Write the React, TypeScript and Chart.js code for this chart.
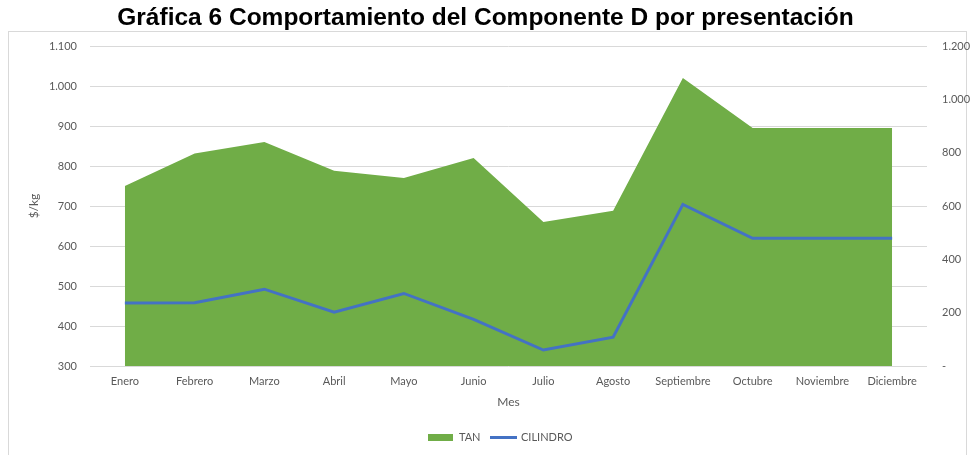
import React, { useEffect, useRef } from "react";
import { Chart, registerables } from "chart.js";

Chart.register(...registerables);

const months = [
  "Enero", "Febrero", "Marzo", "Abril", "Mayo", "Junio",
  "Julio", "Agosto", "Septiembre", "Octubre", "Noviembre", "Diciembre",
];
const tanValues = [750, 831, 860, 788, 770, 820, 660, 688, 1020, 895, 895, 895];
const cilindroValues = [236, 237, 288, 202, 272, 175, 60, 108, 606, 479, 479, 479];

const leftMin = 300;
const leftMax = 1100;
const leftStep = 100;
const rightMin = 0;
const rightMax = 1200;
const rightStep = 200;

const titleText = "Gráfica 6 Comportamiento del Componente D por presentación";
const leftAxisTitle = "$/kg";
const xAxisTitle = "Mes";
const tanLabel = "TAN";
const cilindroLabel = "CILINDRO";

const GREEN = "#70AD47";
const BLUE = "#4472C4";
const TEXT = "#595959";
const GRID = "#D9D9D9";
const FONT = "Lato, 'Open Sans', sans-serif";

function fmt(v: number): string {
  if (v === 0) return "-";
  return String(v).replace(/\B(?=(\d{3})+(?!\d))/g, ".");
}

function makeSwatch(w: number, h: number, color: string): HTMLCanvasElement {
  const c = document.createElement("canvas");
  c.width = w;
  c.height = h;
  const ctx = c.getContext("2d")!;
  ctx.fillStyle = color;
  ctx.fillRect(0, 0, w, h);
  return c;
}

const borderPlugin = {
  id: "outerBorder",
  beforeDraw(chart: any) {
    const ctx = chart.ctx;
    ctx.save();
    ctx.strokeStyle = GRID;
    ctx.lineWidth = 1;
    ctx.strokeRect(8.5, 31.5, 958, 440);
    ctx.restore();
  },
};

const legendShiftPlugin = {
  id: "legendShift",
  afterLayout(chart: any) {
    const lg = chart.legend;
    if (lg) {
      lg.left += 15;
      lg.right += 15;
    }
  },
};

export default function App() {
  const ref = useRef<HTMLCanvasElement | null>(null);

  useEffect(() => {
    if (!ref.current) return;
    const greenSwatch = makeSwatch(25, 7, GREEN);
    const blueSwatch = makeSwatch(27, 3, BLUE);

    const chart = new Chart(ref.current, {
      type: "line",
      data: {
        labels: months,
        datasets: [
          {
            label: tanLabel,
            data: tanValues,
            yAxisID: "y",
            fill: "start",
            backgroundColor: GREEN,
            borderColor: GREEN,
            borderWidth: 0,
            pointRadius: 0,
            tension: 0,
            order: 1,
          },
          {
            label: cilindroLabel,
            data: cilindroValues,
            yAxisID: "y1",
            fill: false,
            borderColor: BLUE,
            backgroundColor: BLUE,
            borderWidth: 3,
            pointRadius: 0,
            tension: 0,
            order: 0,
          },
        ],
      },
      plugins: [borderPlugin, legendShiftPlugin],
      options: {
        responsive: false,
        animation: false,
        layout: { padding: { left: 0, right: 0, top: 0, bottom: 2 } },
        plugins: {
          title: {
            display: true,
            text: titleText,
            color: "#000000",
            font: { family: "'Liberation Sans', Arial, sans-serif", size: 24.5, weight: "bold" },
            padding: { top: 3.3, bottom: 13.3 },
          },
          tooltip: { enabled: false },
          legend: {
            display: true,
            position: "bottom",
            labels: {
              usePointStyle: true,
              pointStyleWidth: 25,
              boxHeight: 11,
              color: TEXT,
              font: { family: FONT, size: 11 },
              padding: 10,
              generateLabels: () => [
                {
                  text: tanLabel,
                  fillStyle: GREEN,
                  strokeStyle: GREEN,
                  lineWidth: 0,
                  pointStyle: greenSwatch,
                  fontColor: TEXT,
                  hidden: false,
                  datasetIndex: 0,
                },
                {
                  text: cilindroLabel,
                  fillStyle: BLUE,
                  strokeStyle: BLUE,
                  lineWidth: 0,
                  pointStyle: blueSwatch,
                  fontColor: TEXT,
                  hidden: false,
                  datasetIndex: 1,
                },
              ],
            },
          },
        },
        scales: {
          x: {
            offset: true,
            grid: { display: false, drawTicks: false },
            border: { display: false },
            ticks: {
              color: TEXT,
              font: { family: FONT, size: 11 },
              padding: 9,
              maxRotation: 0,
              autoSkip: false,
            },
            title: {
              display: true,
              text: xAxisTitle,
              color: TEXT,
              font: { family: FONT, size: 12 },
              padding: { top: 0, bottom: 13 },
            },
            afterFit: (s: any) => {
              s.height = 56;
            },
          },
          y: {
            position: "left",
            min: leftMin,
            max: leftMax,
            grid: { color: GRID, drawTicks: false, lineWidth: 1 },
            border: { display: false },
            ticks: {
              stepSize: leftStep,
              color: TEXT,
              font: { family: FONT, size: 11 },
              padding: 13,
              callback: (v: any) => fmt(Number(v)),
            },
            title: {
              display: true,
              text: leftAxisTitle,
              color: TEXT,
              font: { family: FONT, size: 12 },
              padding: { top: 27, bottom: 0 },
            },
            afterFit: (s: any) => {
              s.width = 90;
            },
          },
          y1: {
            position: "right",
            min: rightMin,
            max: rightMax,
            grid: { display: false, drawTicks: false },
            border: { display: false },
            ticks: {
              stepSize: rightStep,
              color: TEXT,
              font: { family: FONT, size: 11 },
              padding: 15,
              callback: (v: any) => fmt(Number(v)),
            },
            afterFit: (s: any) => {
              s.width = 44;
            },
          },
        },
      },
    } as any);

    return () => chart.destroy();
  }, []);

  return (
    <div style={{ position: "absolute", left: 0, top: 0, width: 971, height: 455, background: "#ffffff" }}>
      <canvas ref={ref} width={971} height={455} style={{ display: "block", width: 971, height: 455 }} />
    </div>
  );
}
